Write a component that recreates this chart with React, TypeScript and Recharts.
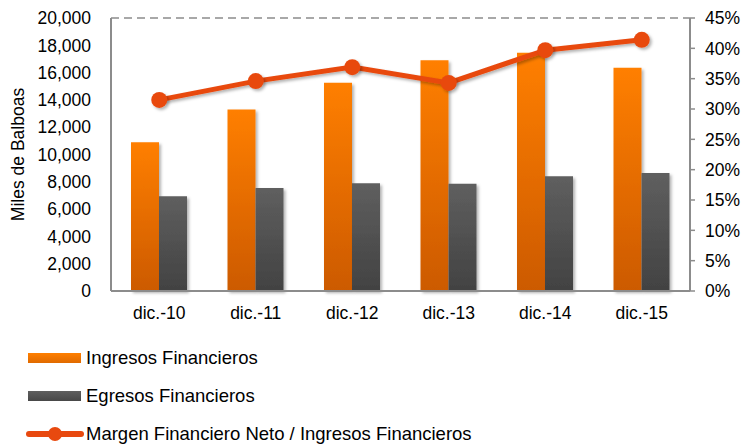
import React from "react";
import {
  ComposedChart,
  Bar,
  Line,
  XAxis,
  YAxis,
  CartesianGrid,
} from "recharts";

// Values
const periods = ["dic.-10", "dic.-11", "dic.-12", "dic.-13", "dic.-14", "dic.-15"];
const ingresos = [10900, 13300, 15250, 16900, 17450, 16350];
const egresos = [6950, 7550, 7900, 7850, 8400, 8650];
const margen = [31.5, 34.6, 36.9, 34.3, 39.7, 41.4];

const leftTicks = [0, 2000, 4000, 6000, 8000, 10000, 12000, 14000, 16000, 18000, 20000];
const rightTicks = [0, 5, 10, 15, 20, 25, 30, 35, 40, 45];

const seriesNames = [
  "Ingresos Financieros",
  "Egresos Financieros",
  "Margen Financiero Neto / Ingresos Financieros",
];

const data = periods.map((p, i) => ({
  period: p,
  ingresos: ingresos[i],
  egresos: egresos[i],
  margen: margen[i],
}));

const FONT = "'Liberation Sans', Arial, sans-serif";
const AXIS_GRAY = "#8c8c8c";
const LINE_COLOR = "#e8490f";
const TICK_STYLE = { fill: "#000", fontSize: 17.5, fontFamily: FONT };

const fmtThousands = (v: number) => v.toLocaleString("en-US");

export default function App() {
  return (
    <div
      style={{
        position: "absolute",
        left: 0,
        top: 0,
        width: 746,
        height: 448,
        background: "#fff",
        fontFamily: FONT,
      }}
    >
      <ComposedChart
        width={746}
        height={448}
        data={data}
        margin={{ top: 18, right: 0, left: 0, bottom: 127 }}
        barGap={0}
        barCategoryGap={20}
      >
        <defs>
          <linearGradient id="gradOrange" x1="0" y1="0" x2="0" y2="1">
            <stop offset="0%" stopColor="#ff7f00" />
            <stop offset="100%" stopColor="#cc5a00" />
          </linearGradient>
          <linearGradient id="gradGray" x1="0" y1="0" x2="0" y2="1">
            <stop offset="0%" stopColor="#5f5f5f" />
            <stop offset="100%" stopColor="#424242" />
          </linearGradient>
          <filter id="shadow" x="-20%" y="-20%" width="150%" height="150%">
            <feDropShadow dx="2" dy="2" stdDeviation="1.5" floodColor="#000" floodOpacity="0.3" />
          </filter>
        </defs>
        <CartesianGrid
          vertical={false}
          stroke={AXIS_GRAY}
          strokeWidth={1.5}
          strokeDasharray="8 5"
        />
        <XAxis
          dataKey="period"
          tickLine={false}
          axisLine={{ stroke: AXIS_GRAY, strokeWidth: 2 }}
          tickMargin={10}
          height={30}
          tick={TICK_STYLE}
        />
        <YAxis
          yAxisId="left"
          domain={[0, 20000]}
          ticks={leftTicks}
          interval={0}
          width={111}
          tickLine={false}
          tickMargin={14}
          tickFormatter={fmtThousands}
          axisLine={{ stroke: AXIS_GRAY, strokeWidth: 2 }}
          tick={TICK_STYLE}
          label={{
            value: "Miles de Balboas",
            angle: -90,
            position: "insideLeft",
            offset: 18,
            style: { fill: "#000", fontSize: 17.5, fontFamily: FONT, textAnchor: "middle" },
          }}
        />
        <YAxis
          yAxisId="right"
          orientation="right"
          domain={[0, 45]}
          ticks={rightTicks}
          interval={0}
          width={56}
          tickSize={5}
          tickMargin={10}
          tickFormatter={(v: number) => `${v}%`}
          axisLine={{ stroke: AXIS_GRAY, strokeWidth: 2 }}
          tickLine={{ stroke: AXIS_GRAY, strokeWidth: 1.5 }}
          tick={TICK_STYLE}
        />
        <Bar
          yAxisId="left"
          dataKey="ingresos"
          name={seriesNames[0]}
          fill="url(#gradOrange)"
          filter="url(#shadow)"
          isAnimationActive={false}
        />
        <Bar
          yAxisId="left"
          dataKey="egresos"
          name={seriesNames[1]}
          fill="url(#gradGray)"
          filter="url(#shadow)"
          isAnimationActive={false}
        />
        <Line
          yAxisId="right"
          dataKey="margen"
          name={seriesNames[2]}
          stroke={LINE_COLOR}
          strokeWidth={5}
          dot={{ r: 8, fill: LINE_COLOR, stroke: LINE_COLOR, strokeWidth: 0 }}
          filter="url(#shadow)"
          isAnimationActive={false}
        />
      </ComposedChart>

      {/* legend, stacked below the plot */}
      <div style={{ position: "absolute", left: 26, top: 339, fontSize: 18.5, color: "#000" }}>
        {seriesNames.map((name, i) => (
          <div
            key={name}
            style={{ display: "flex", alignItems: "center", height: 38 }}
          >
            <svg width={60} height={20} style={{ marginRight: 0 }}>
              <defs>
                <linearGradient id="lgOrange" x1="0" y1="0" x2="0" y2="1">
                  <stop offset="0%" stopColor="#ff7f00" />
                  <stop offset="100%" stopColor="#e06a00" />
                </linearGradient>
                <linearGradient id="lgGray" x1="0" y1="0" x2="0" y2="1">
                  <stop offset="0%" stopColor="#5f5f5f" />
                  <stop offset="100%" stopColor="#484848" />
                </linearGradient>
              </defs>
              {i === 0 && <rect x={2} y={5} width={53} height={10} fill="url(#lgOrange)" />}
              {i === 1 && <rect x={2} y={5} width={53} height={10} fill="url(#lgGray)" />}
              {i === 2 && (
                <g>
                  <line x1={3} y1={10} x2={55} y2={10} stroke={LINE_COLOR} strokeWidth={6} strokeLinecap="round" />
                  <circle cx={29} cy={10} r={7} fill={LINE_COLOR} />
                </g>
              )}
            </svg>
            <span>{name}</span>
          </div>
        ))}
      </div>
    </div>
  );
}
